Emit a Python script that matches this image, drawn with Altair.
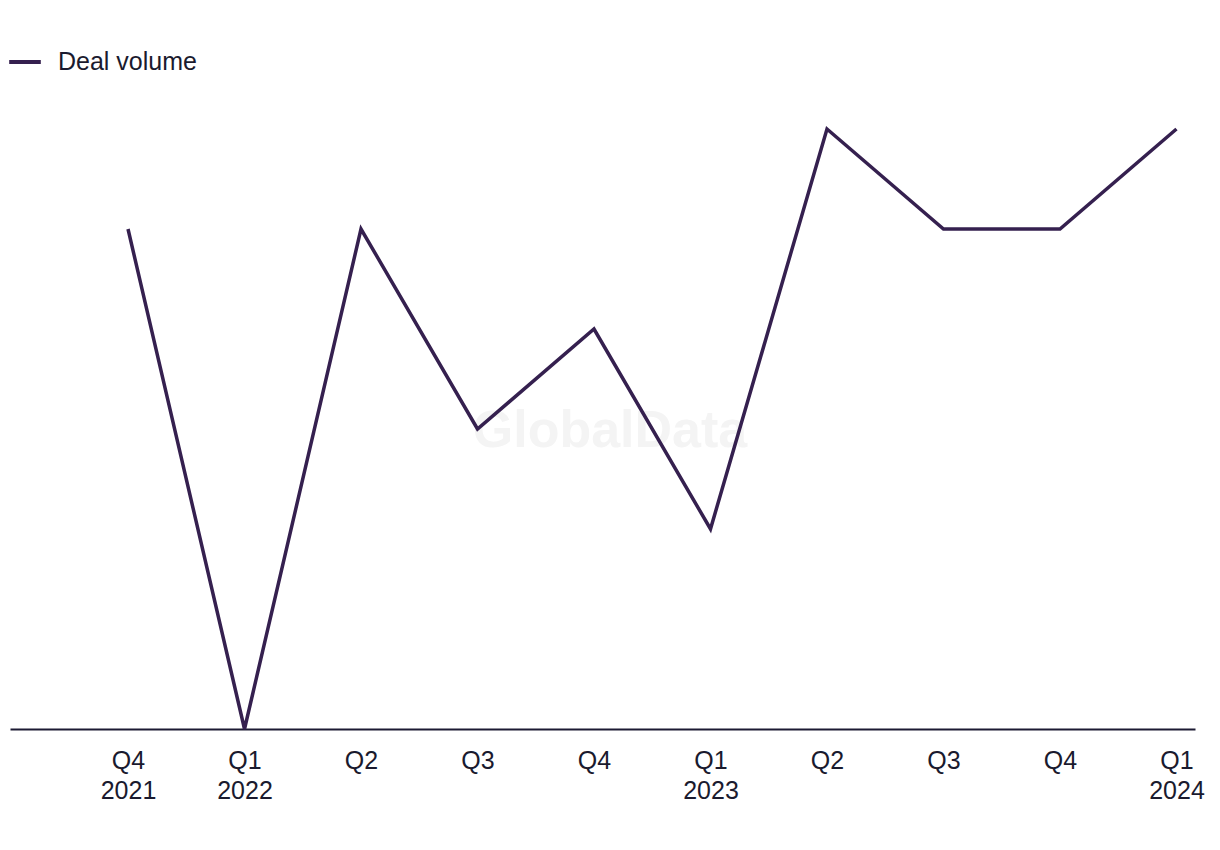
import altair as alt
import pandas as pd
import json

quarters = ["Q4|2021", "Q1|2022", "Q2", "Q3", "Q4", "Q1|2023", "Q2", "Q3", "Q4", "Q1|2024"]
deal_volume = [5, 0, 5, 3, 4, 2, 6, 5, 5, 6]
series_name = "Deal volume"

df = pd.DataFrame({
    "idx": list(range(len(quarters))),
    "label": quarters,
    "value": deal_volume,
    "series": [series_name] * len(quarters),
})

label_arr = json.dumps(quarters)

FONT = "Liberation Sans"
LINE_COLOR = "#35204f"
AXIS_COLOR = "#1c1a33"

line = alt.Chart(df).mark_line(strokeWidth=3.5, strokeJoin="miter").encode(
    x=alt.X("idx:Q",
            scale=alt.Scale(domain=[-1.013, 9.159], nice=False, zero=False),
            axis=alt.Axis(
                title=None,
                values=list(range(len(quarters))),
                labelExpr=f"split({label_arr}[datum.value], '|')",
                grid=False,
                ticks=False,
                domainColor=AXIS_COLOR,
                domainWidth=2,
                labelFont=FONT,
                labelFontSize=25,
                labelColor="#1a1a2e",
                labelPadding=19,
                labelLineHeight=30,
                labelFlush=False,
                labelOverlap=False,
                labelBaseline="top",
            )),
    y=alt.Y("value:Q", scale=alt.Scale(domain=[0, 6], nice=False), axis=None),
    color=alt.Color("series:N",
                    scale=alt.Scale(range=[LINE_COLOR]),
                    legend=alt.Legend(
                        title=None,
                        orient="none",
                        legendX=-3,
                        legendY=-85,
                        symbolType="stroke",
                        symbolStrokeWidth=4,
                        symbolSize=1000,
                        labelFont=FONT,
                        labelFontSize=25,
                        labelColor="#1a1a2e",
                        labelOffset=15,
                    )),
)

watermark = alt.Chart(pd.DataFrame({"t": ["GlobalData"]})).mark_text(
    font=FONT, fontSize=52, fontWeight="bold", color="#f4f4f4",
    align="center", baseline="middle"
).encode(x=alt.value(600), y=alt.value(302), text="t:N")

chart = alt.layer(watermark, line).properties(
    width=1185,
    height=600,
    padding={"left": 2, "top": 121, "right": 10, "bottom": 100},
    autosize=alt.AutoSizeParams(type="none"),
    background="white",
).configure_view(stroke=None)

chart.save("out.html", embed_options={"renderer": "svg", "actions": False})
